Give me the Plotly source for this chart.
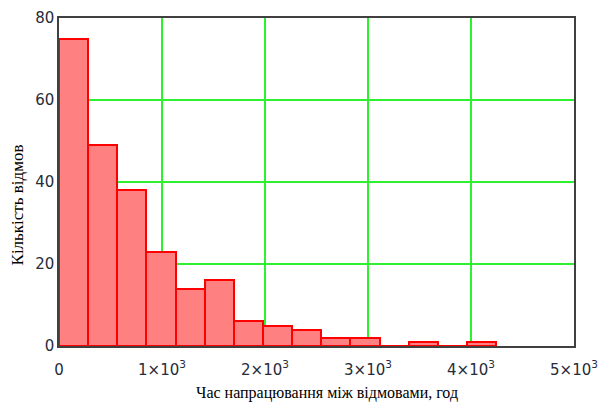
import numpy as np
import plotly.graph_objects as go

# Histogram data (bin width in hours, counts per bin)
bin_start = 0.0
bin_width = 283.0
counts = [75, 49, 38, 23, 14, 16, 6, 5, 4, 2, 2, 0, 1, 0, 1]

x_tickvals = [0, 1000, 2000, 3000, 4000, 5000]
x_ticktext = ["0", "1×10<sup>3</sup>", "2×10<sup>3</sup>", "3×10<sup>3</sup>",
              "4×10<sup>3</sup>", "5×10<sup>3</sup>"]
y_tickvals = [0, 20, 40, 60, 80]

x_title = "Час напрацювання між відмовами, год"
y_title = "Кількість відмов"

centers = bin_start + bin_width * (np.arange(len(counts)) + 0.5)
edges_span = [bin_start, bin_start + bin_width * len(counts)]

fig = go.Figure()
# histogram baseline (visible under empty bins)
fig.add_trace(go.Scatter(
    x=edges_span, y=[0, 0], mode="lines",
    line=dict(color="#FF0000", width=2), showlegend=False, hoverinfo="skip",
))
fig.add_trace(go.Bar(
    x=centers, y=counts, width=bin_width,
    marker=dict(color="#FF8080", line=dict(color="#FF0000", width=2)),
    showlegend=False,
))

tickfont = dict(family="DejaVu Sans", size=15, color="#262c3a")
fig.update_layout(
    width=603, height=403,
    margin=dict(l=59, r=29, t=18, b=57),
    paper_bgcolor="white", plot_bgcolor="white",
    bargap=0,
    xaxis=dict(range=[0, 5000], tickvals=x_tickvals, ticktext=x_ticktext,
               showgrid=True, gridcolor="#2EF02E", gridwidth=1.5,
               zeroline=False, showline=True, mirror=True,
               linecolor="#404040", linewidth=1.5, ticks="",
               ticklabelstandoff=9,
               tickfont=tickfont, layer="below traces", automargin=False),
    yaxis=dict(range=[0, 80], tickvals=y_tickvals,
               showgrid=True, gridcolor="#2EF02E", gridwidth=1.5,
               zeroline=False, showline=True, mirror=True,
               linecolor="#404040", linewidth=1.5, ticks="",
               tickfont=tickfont, layer="below traces", automargin=False),
    annotations=[
        dict(text=x_title, xref="paper", yref="paper", x=0.52, y=0,
             yshift=-58, xanchor="center", yanchor="bottom", showarrow=False,
             font=dict(family="Liberation Serif", size=16, color="black")),
        dict(text=y_title, xref="paper", yref="paper", x=0, y=0.43,
             xshift=-53, xanchor="left", yanchor="middle", showarrow=False,
             textangle=-90,
             font=dict(family="Liberation Serif", size=17, color="black")),
    ],
)

fig.write_html("out.html", config={"displayModeBar": False},
               post_script="document.body.style.margin='0';")
